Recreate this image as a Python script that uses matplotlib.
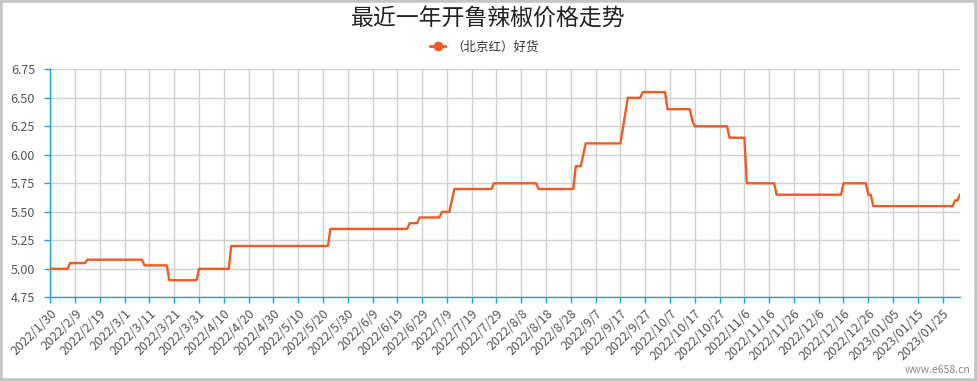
import pandas as pd
import matplotlib
matplotlib.use("Agg")
import matplotlib.pyplot as plt
from matplotlib.lines import Line2D
from matplotlib.patches import Rectangle

plt.rcParams['font.family'] = ['Noto Sans CJK SC', 'DejaVu Sans']

# price series: points where the daily price changes (flat in between)
start_date = '2022-01-30'
dates = ['2022-01-30', '2022-02-06', '2022-02-07', '2022-02-13', '2022-02-14',
         '2022-03-08', '2022-03-09', '2022-03-18', '2022-03-19', '2022-03-30',
         '2022-03-31', '2022-04-12', '2022-04-13', '2022-05-22', '2022-05-23',
         '2022-06-23', '2022-06-24', '2022-06-27', '2022-06-28', '2022-07-06',
         '2022-07-07', '2022-07-10', '2022-07-12', '2022-07-27', '2022-07-28',
         '2022-08-14', '2022-08-15', '2022-08-29', '2022-08-30', '2022-09-01',
         '2022-09-03', '2022-09-17', '2022-09-20', '2022-09-25', '2022-09-26',
         '2022-10-05', '2022-10-06', '2022-10-15', '2022-10-16', '2022-10-17',
         '2022-10-30', '2022-10-31', '2022-11-06', '2022-11-07', '2022-11-18',
         '2022-11-19', '2022-12-15', '2022-12-16', '2022-12-25', '2022-12-26',
         '2022-12-27', '2022-12-28', '2023-01-29', '2023-01-30', '2023-01-31',
         '2023-02-01']
prices = [5.00, 5.00, 5.05, 5.05, 5.08,
          5.08, 5.03, 5.03, 4.90, 4.90,
          5.00, 5.00, 5.20, 5.20, 5.35,
          5.35, 5.40, 5.40, 5.45, 5.45,
          5.50, 5.50, 5.70, 5.70, 5.75,
          5.75, 5.70, 5.70, 5.90, 5.90,
          6.10, 6.10, 6.50, 6.50, 6.55,
          6.55, 6.40, 6.40, 6.30, 6.25,
          6.25, 6.15, 6.15, 5.75, 5.75,
          5.65, 5.65, 5.75, 5.75, 5.65,
          5.65, 5.55, 5.55, 5.60, 5.60,
          5.65]

tick_labels = ['2022/1/30', '2022/2/9', '2022/2/19', '2022/3/1', '2022/3/11',
               '2022/3/21', '2022/3/31', '2022/4/10', '2022/4/20', '2022/4/30',
               '2022/5/10', '2022/5/20', '2022/5/30', '2022/6/9', '2022/6/19',
               '2022/6/29', '2022/7/9', '2022/7/19', '2022/7/29', '2022/8/8',
               '2022/8/18', '2022/8/28', '2022/9/7', '2022/9/17', '2022/9/27',
               '2022/10/7', '2022/10/17', '2022/10/27', '2022/11/6', '2022/11/16',
               '2022/11/26', '2022/12/6', '2022/12/16', '2022/12/26', '2023/01/05',
               '2023/01/15', '2023/01/25']
y_ticks = [4.75, 5.00, 5.25, 5.50, 5.75, 6.00, 6.25, 6.50, 6.75]

line_color = '#f15a22'
axis_color = '#1ba1dc'

# daily category index
x = (pd.to_datetime(dates) - pd.Timestamp(start_date)).days.values
tick_pos = [i * 10 for i in range(len(tick_labels))]

fig = plt.figure(figsize=(9.77, 3.81), dpi=100)
ax = fig.add_axes([50.3 / 977, 83.7 / 381, (960 - 50.3) / 977, 228 / 381])

ax.plot(x, prices, color=line_color, lw=1.7, solid_joinstyle='round', zorder=3)

ax.set_xlim(0, x[-1])
ax.set_ylim(4.75, 6.75)
ax.set_yticks(y_ticks)
ax.set_yticklabels(['%.2f' % v for v in y_ticks])
ax.set_xticks(tick_pos)
ax.set_xticklabels(tick_labels, rotation=45, ha='right', va='top', rotation_mode='anchor')

ax.grid(True, color='#d0d0d0', lw=1)
ax.set_axisbelow(True)
for s in ['top', 'right']:
    ax.spines[s].set_visible(False)
for s in ['left', 'bottom']:
    ax.spines[s].set_color(axis_color)
    ax.spines[s].set_linewidth(1)
ax.tick_params(axis='both', colors=axis_color, length=4, width=1, labelcolor='#555555', labelsize=9)
ax.tick_params(axis='y', pad=7)
ax.tick_params(axis='x', pad=3)

fig.text(0.5, 0.950, '最近一年开鲁辣椒价格走势', ha='center', va='center',
         fontsize=16.5, color='#222222')

handle = Line2D([], [], color=line_color, lw=2, marker='o', markersize=6,
                markerfacecolor=line_color, markeredgecolor=line_color)
fig.legend([handle], ['（北京红）好货'], loc='center', bbox_to_anchor=(0.496, 0.877),
           frameon=False, fontsize=9, handlelength=1.2, handletextpad=0.5,
           labelcolor='#333333')

fig.text(0.993, 0.03, 'www.e658.cn', ha='right', va='center', fontsize=7.5, color='#888888')

fig.add_artist(Rectangle((0, 0), 1, 1, transform=fig.transFigure, fill=False,
                         edgecolor='#c4c4c4', lw=4))

fig.savefig('out.png', dpi=100)
